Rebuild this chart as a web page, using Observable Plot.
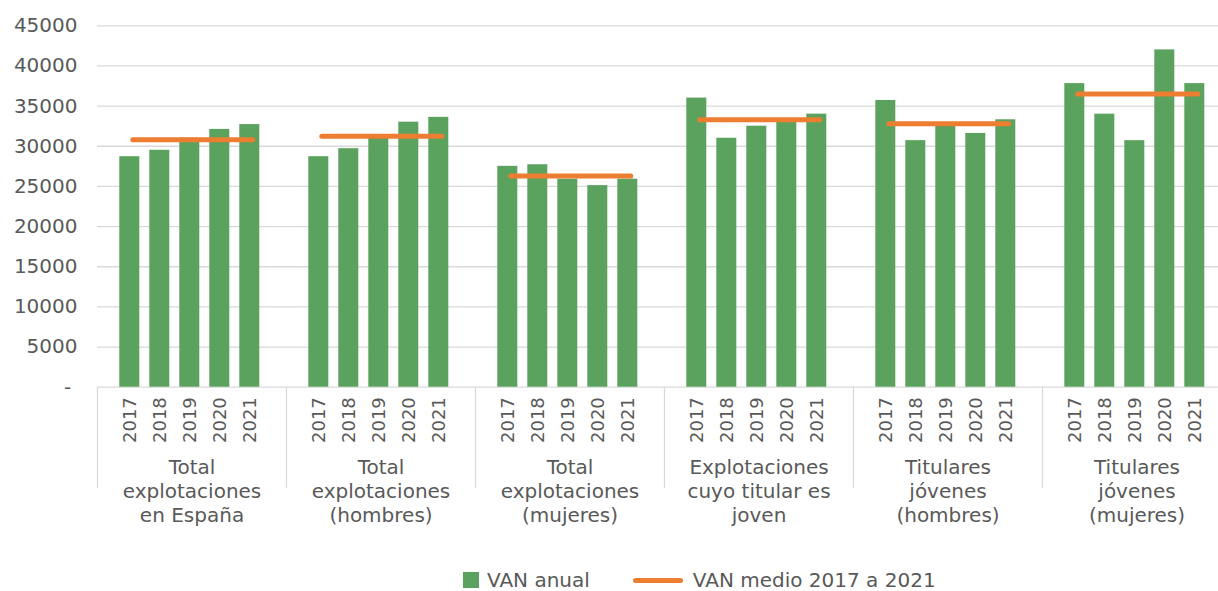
<!DOCTYPE html>
<html>
<head>
<meta charset="utf-8">
<script src="https://cdn.jsdelivr.net/npm/d3@7"></script>
<script src="https://cdn.jsdelivr.net/npm/@observablehq/plot@0.6"></script>
<style>
  html, body { margin: 0; padding: 0; background: #fff; overflow: hidden; width: 1218px; height: 591px; }
  #chart { width: 1231px; }
  #chart svg { display: block; max-width: none !important; }
  .legend { display: flex; align-items: center; height: 22px; margin-top: 19px; padding-left: 463px;
            font-family: "DejaVu Sans", sans-serif; font-size: 20px; color: #595959; white-space: nowrap; }
  .legend .sw { width: 16px; height: 16px; background: #5ba25e; margin-right: 8px; }
  .legend .ln { width: 50px; height: 5px; border-radius: 3px; background: #ed7d31; margin-left: 43px; margin-right: 10px; }
</style>
</head>
<body>
<div id="chart"></div>
<div class="legend"><span class="sw"></span><span>VAN anual</span><span class="ln"></span><span>VAN medio 2017 a 2021</span></div>
<script>
// Categories
const groups = [
  "Total\nexplotaciones\nen España",
  "Total\nexplotaciones\n(hombres)",
  "Total\nexplotaciones\n(mujeres)",
  "Explotaciones\ncuyo titular es\njoven",
  "Titulares\njóvenes\n(hombres)",
  "Titulares\njóvenes\n(mujeres)"
];
const years = ["2017", "2018", "2019", "2020", "2021"];

// VAN anual per group (2017..2021)
const totalEspana   = [28700, 29500, 31000, 32100, 32700];
const totalHombres  = [28700, 29700, 31200, 33000, 33600];
const totalMujeres  = [27500, 27700, 25900, 25100, 25900];
const titularJoven  = [36000, 31000, 32500, 33000, 34000];
const jovenHombres  = [35700, 30700, 32700, 31600, 33300];
const jovenMujeres  = [37800, 34000, 30700, 42000, 37800];

// VAN medio 2017 a 2021 per group
const vanMedio = [30800, 31250, 26300, 33300, 32800, 36500];

// Y axis ticks
const yTicks = [0, 5000, 10000, 15000, 20000, 25000, 30000, 35000, 40000, 45000];

const series = [totalEspana, totalHombres, totalMujeres, titularJoven, jovenHombres, jovenMujeres];
const bars = groups.flatMap((g, gi) => years.map((y, yi) => ({group: g, year: y, value: series[gi][yi]})));
const means = groups.flatMap((g, gi) => years.map(y => ({group: g, year: y, value: vanMedio[gi]})));

const W = 1231, H = 550;
const mL = 96.7, mR = 0, mT = 25.3, mB = 163.3;
const facetW = (W - mL - mR) / groups.length;
const sepBottom = -12600; // separators extend below the baseline

const chart = Plot.plot({
  width: W,
  height: H,
  marginLeft: mL,
  marginRight: mR,
  marginTop: mT,
  marginBottom: mB,
  style: {fontFamily: "DejaVu Sans, sans-serif", fontSize: "20px", color: "#595959", background: "white", maxWidth: "none", overflow: "visible"},
  fx: {domain: groups, padding: 0, axis: null},
  x: {domain: years, paddingInner: 0.344, paddingOuter: 0.77, align: 0.46, axis: null},
  y: {domain: [0, 45000], axis: null},
  marks: [
    Plot.ruleY(yTicks, {stroke: "#d9d9d9", strokeWidth: 1.3}),
    Plot.axisY(yTicks, {label: null, tickSize: 0, tickPadding: 20, fontSize: 20, tickFormat: d => d === 0 ? "-\u00a0" : String(d)}),
    Plot.ruleX(["sep"], {x: null, y1: 0, y2: sepBottom, dx: -facetW / 2, stroke: "#d9d9d9", strokeWidth: 1.3}),
    Plot.barY(bars, {fx: "group", x: "year", y: "value", fill: "#5ba25e"}),
    Plot.lineY(means, {fx: "group", x: "year", y: "value", stroke: "#ed7d31", strokeWidth: 5, strokeLinecap: "round", dx: 3}),
    Plot.text(bars, {fx: "group", x: "year", text: "year", frameAnchor: "bottom", rotate: -90, textAnchor: "end", lineAnchor: "middle", dy: 10, fontSize: 18, fill: "#595959"}),
    Plot.text(groups, {fx: d => d, text: d => d, frameAnchor: "bottom", lineAnchor: "top", lineHeight: 1.22, dy: 69, fontSize: 20, fill: "#595959"})
  ]
});
document.getElementById("chart").appendChild(chart);
</script>
</body>
</html>
